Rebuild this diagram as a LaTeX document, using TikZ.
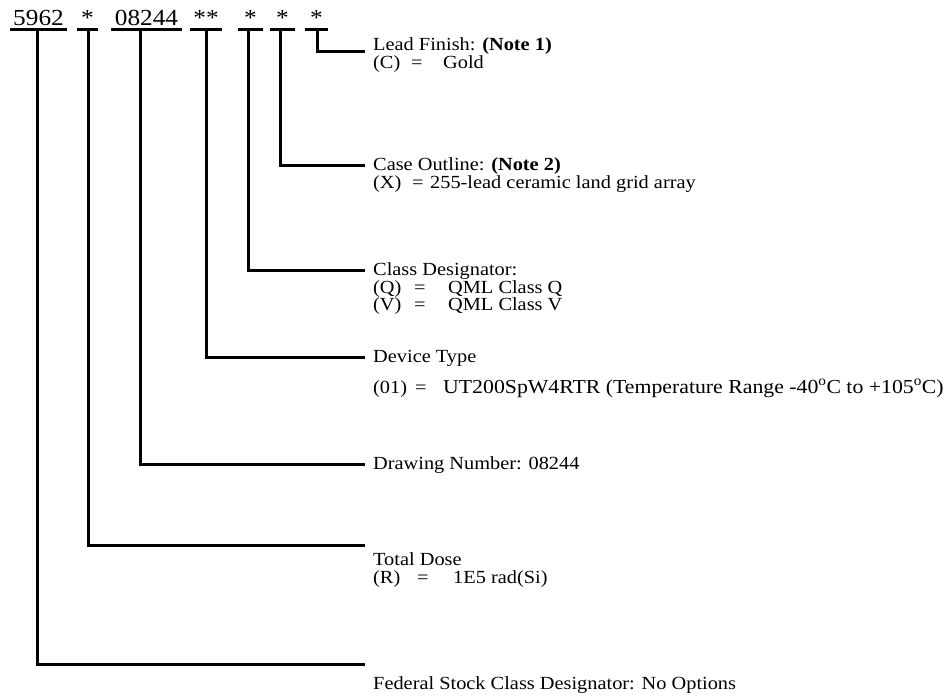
\documentclass[tikz,border=0pt]{standalone}
\usepackage{fontspec}
\setmainfont{Liberation Serif}[FakeStretch=1.1]
\newcommand{\kvrow}[5]{\makebox[#1][l]{#3}\makebox[#2][l]{#4}#5}
\begin{document}
\begin{tikzpicture}[x=1pt,y=-1pt,
  code/.style={anchor=base, inner sep=0pt, font=\fontsize{23}{24}\selectfont},
  desc/.style={anchor=base west, inner sep=0pt, font=\fontsize{18.5}{16}\selectfont},
  conn/.style={line width=3pt},
  ul/.style={line width=3pt}]
\useasboundingbox (0,0) rectangle (950,696);
% code fields
\node[code, minimum width=57pt] (c1) at (38.5,25) {5962};
\node[code, minimum width=21pt] (c2) at (87.5,25) {*};
\node[code, minimum width=71pt] (c3) at (146.5,25) {08244};
\node[code, minimum width=32pt] (c4) at (206,25) {**};
\node[code, minimum width=25pt] (c5) at (250.5,25) {*};
\node[code, minimum width=25pt] (c6) at (282.5,25) {*};
\node[code, minimum width=23pt] (c7) at (316.5,25) {*};
\foreach \n in {c1,c2,c3,c4,c5,c6,c7}
  \draw[ul] ([yshift=-4pt]\n.base west) -- ([yshift=-4pt]\n.base east);
% line ends
\coordinate (e7) at (365,51);
\coordinate (e6) at (365,165);
\coordinate (e5) at (365,270);
\coordinate (e4) at (365,357);
\coordinate (e3) at (365,464);
\coordinate (e2) at (365,545);
\coordinate (e1) at (365,664);
% connectors
\draw[conn] ([xshift=-1.5pt,yshift=-4pt]c1.base) |- (e1);
\draw[conn] ([xshift=0.5pt,yshift=-4pt]c2.base) |- (e2);
\draw[conn] ([xshift=-6.5pt,yshift=-4pt]c3.base) |- (e3);
\draw[conn] ([yshift=-4pt]c4.base) |- (e4);
\draw[conn] ([xshift=-2.5pt,yshift=-4pt]c5.base) |- (e5);
\draw[conn] ([xshift=-2.5pt,yshift=-4pt]c6.base) |- (e6);
\draw[conn] ([xshift=0.5pt,yshift=-4pt]c7.base) |- (e7);
% descriptions
\node[desc] (d7) at (373,50.5) {\begin{tabular}[t]{@{}l@{}}Lead Finish: \textbf{(Note 1)}\\
  \kvrow{38pt}{32pt}{(C)}{=}{Gold}\end{tabular}};
\node[desc] (d6) at (373,170.5) {\begin{tabular}[t]{@{}l@{}}Case Outline: \textbf{(Note 2)}\\
  \kvrow{39pt}{18pt}{(X)}{=}{255-lead ceramic land grid array}\end{tabular}};
\node[desc] (d5) at (373,275.5) {\begin{tabular}[t]{@{}l@{}}Class Designator:\\
  \kvrow{41pt}{34pt}{(Q)}{=}{QML Class Q}\\
  \kvrow{41pt}{34pt}{(V)}{=}{QML Class V}\end{tabular}};
\node[desc] (d4) at (373,362.5) {\begin{tabular}[t]{@{}l@{}}Device Type\\[12pt]
  \kvrow{42pt}{28pt}{(01)}{=}{\fontsize{19.8}{16}\selectfont UT200SpW4RTR (Temperature Range -40\textsuperscript{o}C to +105\textsuperscript{o}C)}\end{tabular}};
\node[desc] (d3) at (373,469.5) {Drawing Number: 08244};
\node[desc] (d2) at (373,565.5) {\begin{tabular}[t]{@{}l@{}}Total Dose\\
  \kvrow{44pt}{36pt}{(R)}{=}{1E5 rad(Si)}\end{tabular}};
\node[desc] (d1) at (373,689.5) {Federal Stock Class Designator: No Options};
\end{tikzpicture}
\end{document}
